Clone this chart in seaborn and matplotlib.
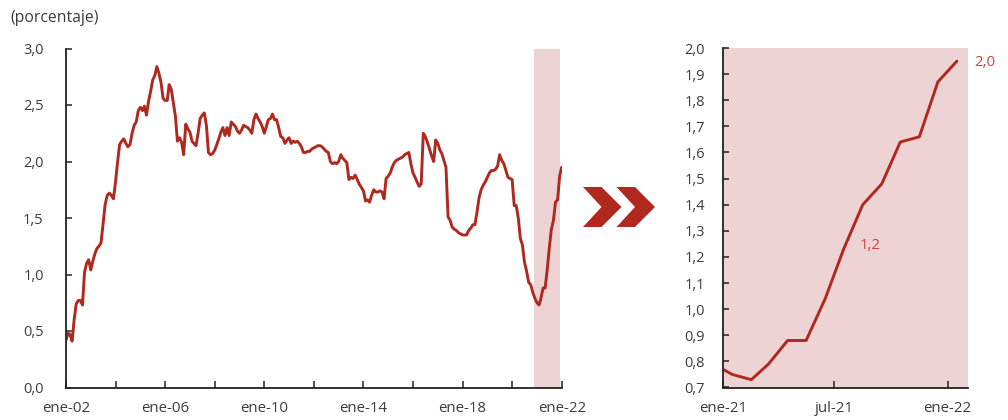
import matplotlib
matplotlib.use("Agg")
import matplotlib.pyplot as plt
import matplotlib.dates as mdates
from matplotlib.patches import Polygon
from matplotlib.ticker import FuncFormatter, MultipleLocator
import pandas as pd
import seaborn as sns

# Monthly series, Jan 2002 - Nov 2020 (percent)
historico = [
    0.42, 0.48, 0.47, 0.41, 0.60, 0.74, 0.77, 0.77, 0.73, 1.02,
    1.10, 1.13, 1.04, 1.12, 1.18, 1.23, 1.25, 1.28, 1.45, 1.62,
    1.70, 1.72, 1.70, 1.67, 1.82, 2.00, 2.15, 2.18, 2.20, 2.16,
    2.13, 2.15, 2.25, 2.32, 2.35, 2.45, 2.48, 2.45, 2.49, 2.41,
    2.53, 2.62, 2.72, 2.76, 2.84, 2.78, 2.70, 2.56, 2.54, 2.54,
    2.68, 2.64, 2.52, 2.40, 2.18, 2.21, 2.17, 2.06, 2.33, 2.29,
    2.26, 2.18, 2.16, 2.14, 2.25, 2.38, 2.41, 2.43, 2.32, 2.08,
    2.06, 2.07, 2.10, 2.15, 2.20, 2.26, 2.30, 2.23, 2.30, 2.23,
    2.35, 2.33, 2.31, 2.27, 2.25, 2.28, 2.32, 2.31, 2.30, 2.28,
    2.25, 2.37, 2.42, 2.38, 2.35, 2.31, 2.25, 2.31, 2.37, 2.38,
    2.42, 2.37, 2.37, 2.30, 2.22, 2.21, 2.16, 2.19, 2.21, 2.16,
    2.18, 2.17, 2.18, 2.16, 2.13, 2.08, 2.08, 2.09, 2.09, 2.11,
    2.12, 2.13, 2.14, 2.14, 2.13, 2.11, 2.09, 2.08, 2.00, 1.98,
    1.99, 1.98, 2.00, 2.06, 2.03, 2.01, 1.99, 1.84, 1.86, 1.85,
    1.88, 1.84, 1.80, 1.77, 1.74, 1.65, 1.66, 1.64, 1.70, 1.75,
    1.73, 1.73, 1.74, 1.73, 1.67, 1.85, 1.87, 1.90, 1.95, 1.99,
    2.01, 2.02, 2.03, 2.04, 2.06, 2.07, 2.08, 1.98, 1.90, 1.86,
    1.82, 1.78, 1.80, 2.25, 2.22, 2.17, 2.11, 2.05, 2.00, 2.19,
    2.16, 2.10, 2.07, 2.01, 1.95, 1.51, 1.48, 1.42, 1.40, 1.39,
    1.37, 1.36, 1.35, 1.35, 1.35, 1.39, 1.41, 1.44, 1.44, 1.55,
    1.68, 1.75, 1.79, 1.82, 1.86, 1.90, 1.92, 1.92, 1.93, 1.96,
    2.06, 2.01, 1.98, 1.92, 1.86, 1.85, 1.84, 1.61, 1.61, 1.50,
    1.32, 1.26, 1.11, 1.03, 0.93, 0.91, 0.84,
]

# Recent months, Dec 2020 - Jan 2022 (percent)
reciente = [0.79, 0.75, 0.73, 0.79, 0.88, 0.88, 1.04, 1.23, 1.40, 1.48,
            1.64, 1.66, 1.87, 1.95]

# Values labelled in the detail panel
etiquetas = {"2021-07": "1,2", "2022-01": "2,0"}

MESES = ["ene", "feb", "mar", "abr", "may", "jun",
         "jul", "ago", "sep", "oct", "nov", "dic"]

ROJO = "#B0281E"
ROJO_TEXTO = "#C9473D"
ROSA = "#EDD3D3"
GRIS = "#3C3C3C"

sns.set_theme(style="ticks")
plt.rcParams["font.family"] = ["Open Sans", "DejaVu Sans"]
plt.rcParams["font.size"] = 10.5

# Build tidy frames
fechas_hist = pd.date_range(end="2020-11-01", periods=len(historico), freq="MS")
fechas_rec = pd.date_range(start="2020-12-01", periods=len(reciente), freq="MS")
largo = pd.DataFrame({
    "fecha": list(fechas_hist) + list(fechas_rec),
    "valor": historico + reciente,
})
detalle = pd.DataFrame({
    "fecha": fechas_rec + pd.Timedelta(days=15),
    "valor": reciente,
})

fig = plt.figure(figsize=(10.08, 4.2), dpi=100)
ax1 = fig.add_axes([66 / 1008, 1 - 387.5 / 420, 496 / 1008, 339 / 420])
ax2 = fig.add_axes([723 / 1008, 1 - 387.5 / 420, 245 / 1008, 339.5 / 420])


def fmt_coma(v, _pos):
    return f"{v:.1f}".replace(".", ",")


def fmt_mes(x, _pos, solo_cada=None):
    d = mdates.num2date(x)
    if solo_cada and (d.year - 2002) % solo_cada != 0:
        return ""
    return f"{MESES[d.month - 1]}-{d.year % 100:02d}"


def estilo(ax, ypad, xpad):
    for lado in ("top", "right"):
        ax.spines[lado].set_visible(False)
    for lado in ("left", "bottom"):
        ax.spines[lado].set_color("#222222")
        ax.spines[lado].set_linewidth(1.3)
    ax.tick_params(axis="y", direction="in", length=4, width=1.1,
                   color="#222222", labelcolor=GRIS, pad=ypad, labelsize=10.5)
    ax.tick_params(axis="x", direction="in", length=5, width=1.1,
                   color="#222222", labelcolor=GRIS, pad=xpad, labelsize=10.8)
    ax.set_xlabel("")
    ax.set_ylabel("")
    ax.yaxis.set_major_formatter(FuncFormatter(fmt_coma))


# Left panel: full history
ax1.axvspan(pd.Timestamp("2020-11-20"), pd.Timestamp("2021-12-10"),
            color=ROSA, lw=0, zorder=0)
sns.lineplot(data=largo, x="fecha", y="valor", ax=ax1, color=ROJO, lw=2.1)
ax1.set_xlim(pd.Timestamp("2002-01-01"), pd.Timestamp("2022-01-05"))
ax1.set_ylim(0, 3.0)
ax1.yaxis.set_major_locator(MultipleLocator(0.5))
ax1.xaxis.set_major_locator(mdates.YearLocator(base=2, month=1, day=1))
ax1.xaxis.set_major_formatter(FuncFormatter(lambda x, p: fmt_mes(x, p, solo_cada=4)))
estilo(ax1, ypad=16, xpad=10)

# Right panel: detail of the last months
ax2.set_facecolor(ROSA)
sns.lineplot(data=detalle, x="fecha", y="valor", ax=ax2, color=ROJO, lw=2.1)
ax2.set_xlim(pd.Timestamp("2021-01-01"), pd.Timestamp("2022-02-03"))
ax2.set_ylim(0.7, 2.0)
ax2.yaxis.set_major_locator(MultipleLocator(0.1))
ax2.set_xticks([pd.Timestamp("2021-01-01"), pd.Timestamp("2021-07-01"),
                pd.Timestamp("2022-01-01")])
ax2.xaxis.set_major_formatter(FuncFormatter(fmt_mes))
estilo(ax2, ypad=13, xpad=10)

for mes, texto in etiquetas.items():
    fila = detalle[detalle["fecha"].dt.strftime("%Y-%m") == mes].iloc[0]
    dx = 17 if mes == "2022-01" else 16
    dy = -1 if mes == "2022-01" else 4
    ax2.annotate(texto, (fila["fecha"], fila["valor"]), xytext=(dx, dy),
                 textcoords="offset pixels", color=ROJO_TEXTO, fontsize=10.8,
                 va="center", ha="left", annotation_clip=False)

# Unit note
fig.text(10 / 1008, 1 - 18 / 420, "(porcentaje)", color=GRIS, fontsize=11.3,
         ha="left", va="center")

# Double chevron linking both panels
def chevron(x0):
    pts = [(x0, 187), (x0 + 18.5, 187), (x0 + 38.5, 207), (x0 + 18.5, 227),
           (x0, 227), (x0 + 18.5, 207)]
    return Polygon([(x / 1008, 1 - y / 420) for x, y in pts], closed=True,
                   transform=fig.transFigure, facecolor=ROJO, edgecolor="none")

for x0 in (583, 616.5):
    fig.patches.append(chevron(x0))

fig.savefig("out.png", dpi=100)
